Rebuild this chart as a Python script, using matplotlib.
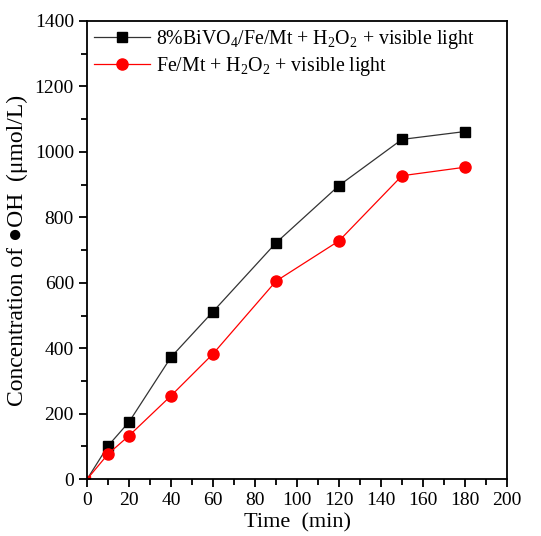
import matplotlib.pyplot as plt
from matplotlib.ticker import MultipleLocator

plt.rcParams['font.family'] = ['Liberation Serif', 'DejaVu Serif']
plt.rcParams['mathtext.fontset'] = 'custom'
plt.rcParams['mathtext.rm'] = 'Liberation Serif'

# Data
time_min = [0, 10, 20, 40, 60, 90, 120, 150, 180]
bivo4_fe_mt = [0, 102, 175, 373, 512, 722, 897, 1038, 1062]
fe_mt = [0, 77, 133, 255, 383, 605, 728, 927, 953]

label_black = r"8%BiVO$_4$/Fe/Mt + H$_2$O$_2$ + visible light"
label_red = r"Fe/Mt + H$_2$O$_2$ + visible light"

fig = plt.figure(figsize=(5.41, 5.36), dpi=100)
ax = fig.add_axes([0.161, 0.106, 0.776, 0.855])

ax.plot(time_min, bivo4_fe_mt, color="#333333", lw=0.9, marker="s", ms=7,
        mfc="black", mec="black", markevery=list(range(1, len(time_min))), label=label_black)
ax.plot(time_min, fe_mt, color="red", lw=0.9, marker="o", ms=8,
        mfc="red", mec="red", markevery=list(range(1, len(time_min))), label=label_red)
# small marker at the origin
ax.plot(time_min[:1], fe_mt[:1], ls="none", marker="s", ms=4, color="red")

ax.set_xlim(0, 200)
ax.set_ylim(0, 1400)
ax.xaxis.set_major_locator(MultipleLocator(20))
ax.xaxis.set_minor_locator(MultipleLocator(10))
ax.yaxis.set_major_locator(MultipleLocator(200))
ax.yaxis.set_minor_locator(MultipleLocator(100))
ax.tick_params(which="both", direction="out", width=1.3, labelsize=14, top=False, right=False)
ax.tick_params(which="major", length=6)
ax.tick_params(which="minor", length=4)
for s in ax.spines.values():
    s.set_linewidth(1.3)

ax.set_xlabel("Time  (min)", fontsize=16, labelpad=3)
ax.set_ylabel("Concentration of \u25cfOH  (\u03bcmol/L)", fontsize=17, labelpad=5)

ax.legend(loc="upper left", frameon=False, fontsize=14.3, handlelength=2.8,
          borderaxespad=0.05, labelspacing=0.2, handletextpad=0.3,
          borderpad=0.3)

fig.savefig("out.png", dpi=100)
